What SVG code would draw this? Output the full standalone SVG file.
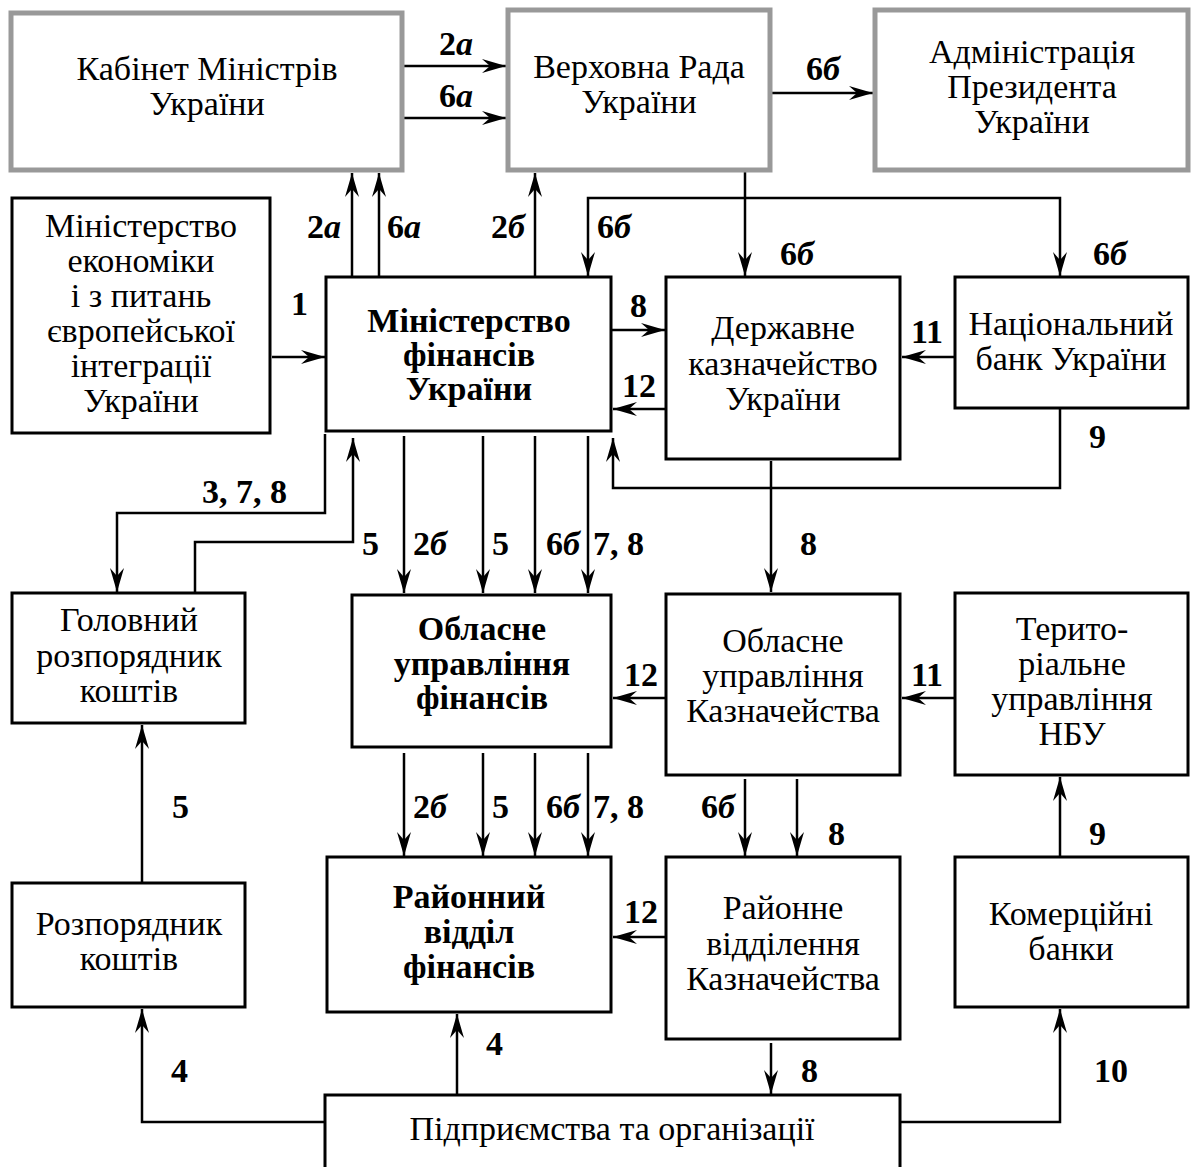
<svg xmlns="http://www.w3.org/2000/svg" width="1193" height="1167" viewBox="0 0 1193 1167">
<style>
.g{fill:#fff;stroke:#999;stroke-width:5}
.b{fill:#fff;stroke:#000;stroke-width:3}
.t{font-family:"Liberation Serif","Times New Roman",serif;font-size:34px;text-anchor:middle;fill:#000}
.tb{font-family:"Liberation Serif","Times New Roman",serif;font-size:34px;font-weight:bold;text-anchor:middle;fill:#000}
.l{font-family:"Liberation Serif","Times New Roman",serif;font-size:34px;font-weight:bold;fill:#000}
.i{font-style:italic}
.c{fill:none;stroke:#000;stroke-width:2.5}
</style>
<defs>
<marker id="a" markerUnits="userSpaceOnUse" markerWidth="26" markerHeight="16" viewBox="-24 -8 26 16" refX="0" refY="0" orient="auto">
<path d="M0,0 L-24,-7 L-16,0 L-24,7 Z" fill="#000"/>
</marker>
</defs>
<rect width="1193" height="1167" fill="#fff"/>
<g id="connectors">
<path class="c" marker-end="url(#a)" d="M404,66 H506"/>
<path class="c" marker-end="url(#a)" d="M404,118 H506"/>
<path class="c" marker-end="url(#a)" d="M770,93 H873"/>
<path class="c" marker-end="url(#a)" d="M352,277 V173"/>
<path class="c" marker-end="url(#a)" d="M379,277 V173"/>
<path class="c" marker-end="url(#a)" d="M535,277 V173"/>
<path class="c" marker-end="url(#a)" d="M745,172 V276"/>
<path class="c" marker-end="url(#a)" d="M745,198 H588 V276"/>
<path class="c" marker-end="url(#a)" d="M745,198 H1060 V276"/>
<path class="c" marker-end="url(#a)" d="M272,357 H325"/>
<path class="c" marker-end="url(#a)" d="M612,330 H665"/>
<path class="c" marker-end="url(#a)" d="M666,409 H613"/>
<path class="c" marker-end="url(#a)" d="M955,357 H902"/>
<path class="c" marker-end="url(#a)" d="M1060,408 V488 H613 V438"/>
<path class="c" marker-end="url(#a)" d="M325,434 V513 H117 V592"/>
<path class="c" marker-end="url(#a)" d="M195,593 V542 H353 V438"/>
<path class="c" marker-end="url(#a)" d="M404,436 V593"/>
<path class="c" marker-end="url(#a)" d="M483,436 V593"/>
<path class="c" marker-end="url(#a)" d="M535,436 V593"/>
<path class="c" marker-end="url(#a)" d="M588,436 V593"/>
<path class="c" marker-end="url(#a)" d="M771,461 V592"/>
<path class="c" marker-end="url(#a)" d="M666,698 H613"/>
<path class="c" marker-end="url(#a)" d="M955,698 H902"/>
<path class="c" marker-end="url(#a)" d="M404,753 V856"/>
<path class="c" marker-end="url(#a)" d="M483,753 V856"/>
<path class="c" marker-end="url(#a)" d="M535,753 V856"/>
<path class="c" marker-end="url(#a)" d="M588,753 V856"/>
<path class="c" marker-end="url(#a)" d="M745,779 V856"/>
<path class="c" marker-end="url(#a)" d="M797,779 V856"/>
<path class="c" marker-end="url(#a)" d="M1060,857 V777"/>
<path class="c" marker-end="url(#a)" d="M142,883 V725"/>
<path class="c" marker-end="url(#a)" d="M666,937 H613"/>
<path class="c" marker-end="url(#a)" d="M771,1043 V1094"/>
<path class="c" marker-end="url(#a)" d="M457,1095 V1014"/>
<path class="c" marker-end="url(#a)" d="M325,1122 H142 V1009"/>
<path class="c" marker-end="url(#a)" d="M900,1122 H1060 V1009"/>
</g>
<g id="labels">
<text class="l" x="439" y="55">2<tspan class="i">а</tspan></text>
<text class="l" x="439" y="107">6<tspan class="i">а</tspan></text>
<text class="l" x="806" y="80">6<tspan class="i">б</tspan></text>
<text class="l" x="307" y="238">2<tspan class="i">а</tspan></text>
<text class="l" x="387" y="238">6<tspan class="i">а</tspan></text>
<text class="l" x="491" y="238">2<tspan class="i">б</tspan></text>
<text class="l" x="597" y="238">6<tspan class="i">б</tspan></text>
<text class="l" x="780" y="265">6<tspan class="i">б</tspan></text>
<text class="l" x="1093" y="265">6<tspan class="i">б</tspan></text>
<text class="l" x="291" y="315">1</text>
<text class="l" x="630" y="317">8</text>
<text class="l" x="622" y="397">12</text>
<text class="l" x="911" y="343">11</text>
<text class="l" x="1089" y="448">9</text>
<text class="l" x="202" y="503">3, 7, 8</text>
<text class="l" x="362" y="555">5</text>
<text class="l" x="413" y="555">2<tspan class="i">б</tspan></text>
<text class="l" x="492" y="555">5</text>
<text class="l" x="546" y="555">6<tspan class="i">б</tspan></text>
<text class="l" x="593" y="555">7, 8</text>
<text class="l" x="800" y="555">8</text>
<text class="l" x="624" y="686">12</text>
<text class="l" x="911" y="686">11</text>
<text class="l" x="172" y="818">5</text>
<text class="l" x="413" y="818">2<tspan class="i">б</tspan></text>
<text class="l" x="492" y="818">5</text>
<text class="l" x="546" y="818">6<tspan class="i">б</tspan></text>
<text class="l" x="593" y="818">7, 8</text>
<text class="l" x="701" y="818">6<tspan class="i">б</tspan></text>
<text class="l" x="828" y="845">8</text>
<text class="l" x="1089" y="845">9</text>
<text class="l" x="624" y="923">12</text>
<text class="l" x="171" y="1082">4</text>
<text class="l" x="486" y="1055">4</text>
<text class="l" x="801" y="1082">8</text>
<text class="l" x="1094" y="1082">10</text>
</g>
<g id="kabinet"><rect class="g" x="11" y="13" width="391" height="157"/>
<text class="t" x="207" y="80">Кабінет Міністрів</text><text class="t" x="207" y="115">України</text></g>
<g id="rada"><rect class="g" x="508" y="10" width="262" height="160"/>
<text class="t" x="639" y="78">Верховна Рада</text><text class="t" x="639" y="113">України</text></g>
<g id="admin"><rect class="g" x="875" y="10" width="313" height="160"/>
<text class="t" x="1032" y="63">Адміністрація</text><text class="t" x="1032" y="98">Президента</text><text class="t" x="1032" y="133">України</text></g>
<g id="minekon"><rect class="b" x="12" y="198" width="258" height="235"/>
<text class="t" x="141" y="237">Міністерство</text><text class="t" x="141" y="272">економіки</text><text class="t" x="141" y="307">і з питань</text><text class="t" x="141" y="342">європейської</text><text class="t" x="141" y="377">інтеграції</text><text class="t" x="141" y="412">України</text></g>
<g id="minfin"><rect class="b" x="326" y="277" width="285" height="154"/>
<text class="tb" x="469" y="332">Міністерство</text><text class="tb" x="469" y="366">фінансів</text><text class="tb" x="469" y="400">України</text></g>
<g id="treasury"><rect class="b" x="666" y="277" width="234" height="182"/>
<text class="t" x="783" y="339">Державне</text><text class="t" x="783" y="375">казначейство</text><text class="t" x="783" y="410">України</text></g>
<g id="nbu"><rect class="b" x="955" y="277" width="233" height="131"/>
<text class="t" x="1071" y="335">Національний</text><text class="t" x="1071" y="370">банк України</text></g>
<g id="holovnyi"><rect class="b" x="12" y="593" width="233" height="130"/>
<text class="t" x="129" y="631">Головний</text><text class="t" x="129" y="667">розпорядник</text><text class="t" x="129" y="702">коштів</text></g>
<g id="oblfin"><rect class="b" x="352" y="595" width="259" height="152"/>
<text class="tb" x="482" y="640">Обласне</text><text class="tb" x="482" y="675">управління</text><text class="tb" x="482" y="709">фінансів</text></g>
<g id="obltreasury"><rect class="b" x="666" y="594" width="234" height="181"/>
<text class="t" x="783" y="652">Обласне</text><text class="t" x="783" y="687">управління</text><text class="t" x="783" y="722">Казначейства</text></g>
<g id="terrnbu"><rect class="b" x="955" y="593" width="233" height="182"/>
<text class="t" x="1072" y="640">Терито-</text><text class="t" x="1072" y="675">ріальне</text><text class="t" x="1072" y="710">управління</text><text class="t" x="1072" y="745">НБУ</text></g>
<g id="rozporiadnyk"><rect class="b" x="12" y="883" width="233" height="124"/>
<text class="t" x="129" y="935">Розпорядник</text><text class="t" x="129" y="970">коштів</text></g>
<g id="raionfin"><rect class="b" x="327" y="857" width="284" height="155"/>
<text class="tb" x="469" y="908">Районний</text><text class="tb" x="469" y="943">відділ</text><text class="tb" x="469" y="978">фінансів</text></g>
<g id="raiontreasury"><rect class="b" x="666" y="857" width="234" height="182"/>
<text class="t" x="783" y="919">Районне</text><text class="t" x="783" y="955">відділення</text><text class="t" x="783" y="990">Казначейства</text></g>
<g id="banks"><rect class="b" x="955" y="857" width="233" height="150"/>
<text class="t" x="1071" y="925">Комерційні</text><text class="t" x="1071" y="960">банки</text></g>
<g id="enterprises"><rect class="b" x="325" y="1095" width="575" height="90"/>
<text class="t" x="612" y="1140">Підприємства та організації</text></g>
</svg>
